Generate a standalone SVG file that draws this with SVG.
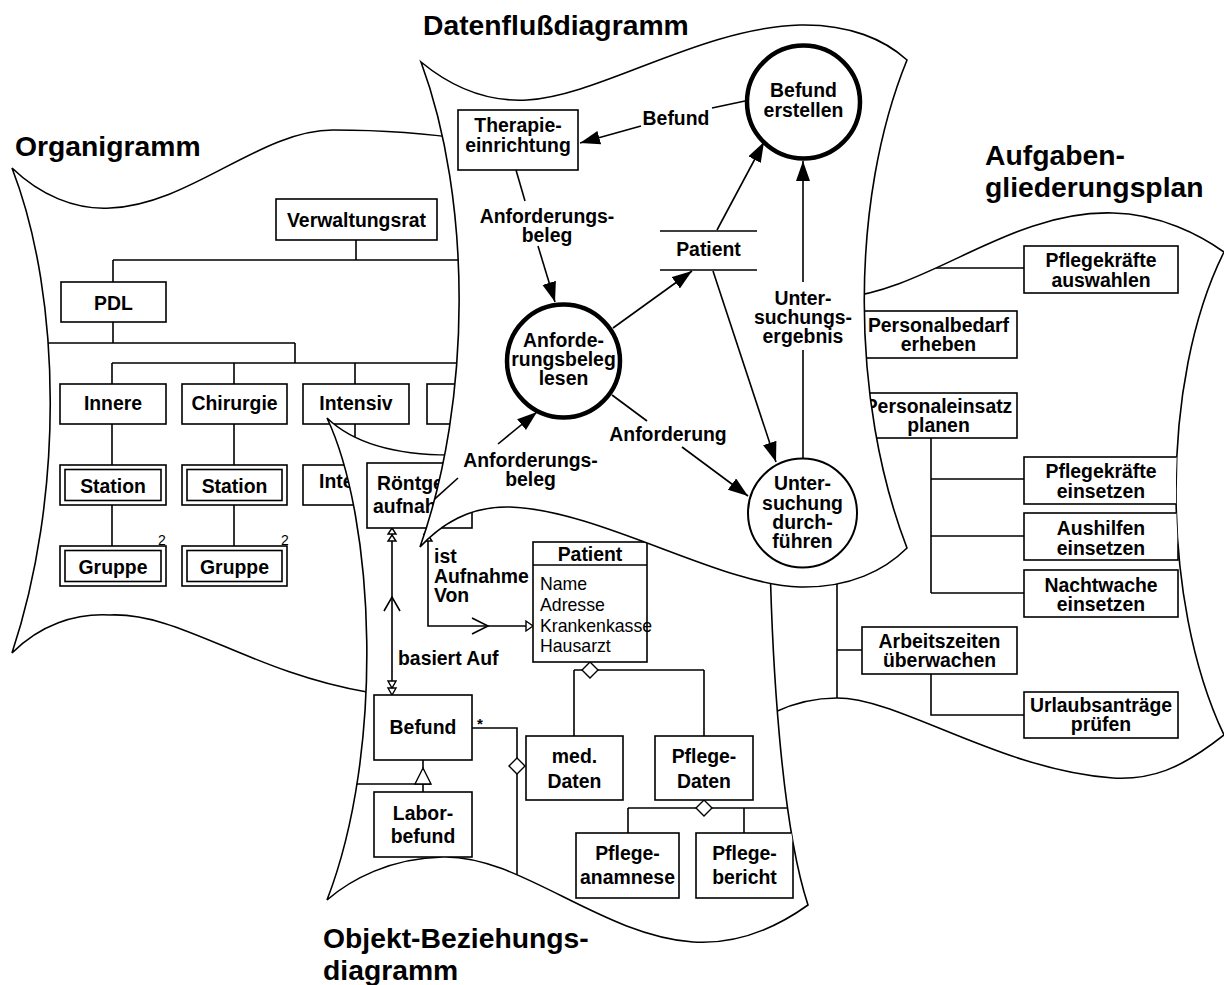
<svg xmlns="http://www.w3.org/2000/svg" xmlns:xlink="http://www.w3.org/1999/xlink" width="1224" height="985" viewBox="0 0 1224 985">
  <defs>
    <style>
      .sheet{fill:#fff;stroke:#000;stroke-width:1.6}
      .box{fill:#fff;stroke:#000;stroke-width:1.6}
      .ln{fill:none;stroke:#000;stroke-width:1.6}
      .hollow{fill:#fff;stroke:#000;stroke-width:1.4}
      .proc{fill:#fff;stroke:#000;stroke-width:4.5}
      .proc2{fill:#fff;stroke:#000;stroke-width:2}
      .flow{fill:none;stroke:#000;stroke-width:1.6;marker-end:url(#arr)}
      text{font-family:"Liberation Sans",Arial,Helvetica,sans-serif;font-weight:bold;font-size:19.4px;text-anchor:middle;fill:#000}
      .title{font-size:28.3px;text-anchor:start}
      .lft{text-anchor:start}
      .attr{font-weight:normal;font-size:17.7px;text-anchor:start}
      .sup{font-weight:normal;font-size:14px;text-anchor:start}
      .star{font-size:15px}
    </style>
    <marker id="arr" markerUnits="userSpaceOnUse" markerWidth="22" markerHeight="16" refX="20" refY="7" orient="auto">
      <path d="M0,0 L20,7 L0,14 Z" fill="#000"/>
    </marker>
    <!-- sheet outlines -->
    <path id="s-org" d="M12,168 C40,195 75,210 110,208 C190,205 260,130 333,130 C380,130 420,132 470,140 L470,694 L367,692 C250,672 180,612 110,615 C75,613 40,625 12,653 C63,500 63,300 12,168 Z"/>
    <path id="s-auf" d="M840,298 C930,290 1010,210 1113,213 C1160,214 1200,235 1224,252 C1160,380 1160,600 1224,735 C1180,770 1150,780 1113,778 C1000,770 900,698 837,698 C810,698 790,705 775,712 L765,650 L758,588 L835,520 Z"/>
    <path id="s-obj" d="M327,418 C350,440 390,455 450,455 L600,470 L770,560 C772,650 780,820 808,905 C780,925 740,945 693,942 C600,935 520,855 443,857 C390,858 350,880 327,900 C385,750 375,520 327,418 Z"/>
    <path id="s-dfd" d="M421,62 C455,90 490,102 527,100 C600,96 700,28 800,25 C850,24 885,40 907,60 C850,200 850,400 907,548 C885,570 850,588 800,587 C720,585 600,510 510,507 C475,506 445,520 420,547 C472,400 472,200 421,62 Z"/>
    <clipPath id="c-org"><use href="#s-org" xlink:href="#s-org"/></clipPath>
    <clipPath id="c-auf"><use href="#s-auf" xlink:href="#s-auf"/></clipPath>
    <clipPath id="c-obj"><use href="#s-obj" xlink:href="#s-obj"/></clipPath>
    <clipPath id="c-dfd"><use href="#s-dfd" xlink:href="#s-dfd"/></clipPath>
  </defs>

  <rect width="1224" height="985" fill="#fff"/>

  <!-- ============ Organigramm sheet ============ -->
  <g id="sheet-organigramm">
    <use href="#s-org" xlink:href="#s-org" class="sheet"/>
    <g clip-path="url(#c-org)">
      <g id="org-links" class="ln">
        <path d="M356,240V260 M113,260H470 M113,260V282 M113,322V343 M20,343H295 M295,343V363 M112,363H480 M112,363V384 M234,363V384 M355,363V384 M480,363V384 M112,424V465 M112,505V546 M234,424V465 M234,505V546 M355,424V465"/>
      </g>
      <g id="n-verwaltungsrat"><rect class="box" x="276" y="199" width="161" height="41"/><text x="356.5" y="227">Verwaltungsrat</text></g>
      <g id="n-pdl"><rect class="box" x="61" y="282" width="105" height="40"/><text x="113.5" y="310">PDL</text></g>
      <g id="n-innere"><rect class="box" x="60" y="384" width="106" height="40"/><text x="113" y="410">Innere</text></g>
      <g id="n-chirurgie"><rect class="box" x="182" y="384" width="105" height="40"/><text x="234.5" y="410">Chirurgie</text></g>
      <g id="n-intensiv"><rect class="box" x="303" y="384" width="106" height="40"/><text x="356" y="410">Intensiv</text></g>
      <g id="n-abteilung-4"><rect class="box" x="427" y="384" width="106" height="40"/></g>
      <g id="n-station-innere"><rect class="box" x="60" y="465" width="106" height="40"/><rect class="box" x="65" y="469.5" width="96" height="31"/><text x="113" y="493">Station</text></g>
      <g id="n-station-chirurgie"><rect class="box" x="182" y="465" width="105" height="40"/><rect class="box" x="187" y="469.5" width="95" height="31"/><text x="234.5" y="493">Station</text></g>
      <g id="n-intensiv-station"><rect class="box" x="303" y="465" width="106" height="40"/><text class="lft" x="319" y="488">Inte</text></g>
      <g id="n-gruppe-innere"><rect class="box" x="60" y="546" width="106" height="40"/><rect class="box" x="65" y="550.5" width="96" height="31"/><text x="113" y="574">Gruppe</text><text class="sup" x="158" y="545">2</text></g>
      <g id="n-gruppe-chirurgie"><rect class="box" x="182" y="546" width="105" height="40"/><rect class="box" x="187" y="550.5" width="95" height="31"/><text x="234.5" y="574">Gruppe</text><text class="sup" x="281" y="545">2</text></g>
    </g>
  </g>

  <!-- ============ Aufgabengliederungsplan sheet ============ -->
  <g id="sheet-aufgaben">
    <use href="#s-auf" xlink:href="#s-auf" class="sheet"/>
    <g clip-path="url(#c-auf)">
      <g id="auf-links" class="ln">
        <path d="M837,268V720 M837,268H1024 M837,335H860 M837,415H860 M837,650H862 M931,438V593 M931,479H1024 M931,536H1024 M931,593H1024 M931,674V715H1024"/>
      </g>
      <g id="n-pflegekraefte-auswahlen"><rect class="box" x="1024" y="246" width="154" height="47"/><text><tspan x="1101" y="267">Pflegekräfte</tspan><tspan x="1101" y="287">auswahlen</tspan></text></g>
      <g id="n-personalbedarf"><rect class="box" x="860" y="311" width="157" height="47"/><text><tspan x="938.5" y="332">Personalbedarf</tspan><tspan x="938.5" y="351">erheben</tspan></text></g>
      <g id="n-personaleinsatz"><rect class="box" x="860" y="393" width="157" height="45"/><text><tspan x="938.5" y="413">Personaleinsatz</tspan><tspan x="938.5" y="432">planen</tspan></text></g>
      <g id="n-pflegekraefte-einsetzen"><rect class="box" x="1024" y="457" width="154" height="47"/><text><tspan x="1101" y="478">Pflegekräfte</tspan><tspan x="1101" y="498">einsetzen</tspan></text></g>
      <g id="n-aushilfen"><rect class="box" x="1024" y="513" width="154" height="47"/><text><tspan x="1101" y="535">Aushilfen</tspan><tspan x="1101" y="555">einsetzen</tspan></text></g>
      <g id="n-nachtwache"><rect class="box" x="1024" y="570" width="154" height="47"/><text><tspan x="1101" y="592">Nachtwache</tspan><tspan x="1101" y="611">einsetzen</tspan></text></g>
      <g id="n-arbeitszeiten"><rect class="box" x="862" y="627" width="155" height="47"/><text><tspan x="939.5" y="648">Arbeitszeiten</tspan><tspan x="939.5" y="667">überwachen</tspan></text></g>
      <g id="n-urlaubsantraege"><rect class="box" x="1024" y="692" width="154" height="46"/><text><tspan x="1101" y="712">Urlaubsanträge</tspan><tspan x="1101" y="731">prüfen</tspan></text></g>
    </g>
  </g>

  <!-- ============ Objekt-Beziehungsdiagramm sheet ============ -->
  <g id="sheet-objekt">
    <use href="#s-obj" xlink:href="#s-obj" class="sheet"/>
    <g clip-path="url(#c-obj)">
      <g id="obj-links">
        <path class="ln" d="M392,541V681 M428,541V626H526 M472,728H517V758 M517,774V910 M423,760V768 M340,784H431 M423,784V792 M574,670H582 M598,670H704 M574,670V736 M704,670V736 M628,808H696 M712,808H800 M628,808V833 M744,808V833"/>
        <path class="ln" d="M384,611L392,597L400,611 M472,618L488,626L472,634"/>
        <path class="hollow" d="M392,528L396,534H388Z M392,535L396,541H388Z M428,528L432,534H424Z M428,535L432,541H424Z M388,681H396L392,688Z M388,688H396L392,695Z M533,626L526,631V621Z M423,768L431,784H415Z"/>
        <path class="hollow" d="M590,662L598,670L590,678L582,670Z M704,800L712,808L704,816L696,808Z M517,758L525,766L517,774L509,766Z"/>
        <text class="lft" x="398" y="665">basiert Auf</text>
        <text class="lft"><tspan x="434" y="563">ist</tspan><tspan x="434" y="583">Aufnahme</tspan><tspan x="434" y="602">Von</tspan></text>
        <text class="star" x="480" y="729">*</text>
      </g>
      <g id="n-roentgenaufnahme"><rect class="box" x="367" y="463" width="105" height="65"/><text class="lft"><tspan x="377" y="490">Röntge</tspan><tspan x="373" y="513">aufnah</tspan></text></g>
      <g id="n-patient-klasse">
        <rect class="box" x="533" y="542" width="114" height="120"/>
        <path class="ln" d="M533,565H647"/>
        <text x="590" y="561">Patient</text>
        <text class="attr"><tspan x="540" y="590">Name</tspan><tspan x="540" y="611">Adresse</tspan><tspan x="540" y="632">Krankenkasse</tspan><tspan x="540" y="652">Hausarzt</tspan></text>
      </g>
      <g id="n-befund"><rect class="box" x="374" y="695" width="98" height="65"/><text x="423" y="734">Befund</text></g>
      <g id="n-laborbefund"><rect class="box" x="374" y="792" width="98" height="65"/><text><tspan x="423" y="820">Labor-</tspan><tspan x="423" y="843">befund</tspan></text></g>
      <g id="n-med-daten"><rect class="box" x="526" y="736" width="97" height="64"/><text><tspan x="574.5" y="763">med.</tspan><tspan x="574.5" y="788">Daten</tspan></text></g>
      <g id="n-pflege-daten"><rect class="box" x="655" y="736" width="98" height="64"/><text><tspan x="704" y="763">Pflege-</tspan><tspan x="704" y="788">Daten</tspan></text></g>
      <g id="n-pflegeanamnese"><rect class="box" x="576" y="833" width="103" height="65"/><text><tspan x="627.5" y="860">Pflege-</tspan><tspan x="627.5" y="884">anamnese</tspan></text></g>
      <g id="n-pflegebericht"><rect class="box" x="696" y="833" width="97" height="65"/><text><tspan x="744.5" y="860">Pflege-</tspan><tspan x="744.5" y="884">bericht</tspan></text></g>
    </g>
  </g>

  <!-- ============ Datenflussdiagramm sheet ============ -->
  <g id="sheet-datenfluss">
    <use href="#s-dfd" xlink:href="#s-dfd" class="sheet"/>
    <g clip-path="url(#c-dfd)">
      <g id="n-therapieeinrichtung"><rect class="box" x="458" y="110" width="120" height="60"/><text><tspan x="518" y="132">Therapie-</tspan><tspan x="518" y="152">einrichtung</tspan></text></g>
      <g id="n-befund-erstellen"><circle class="proc" cx="803.5" cy="102" r="56.5"/><text><tspan x="803.5" y="97">Befund</tspan><tspan x="803.5" y="117">erstellen</tspan></text></g>
      <g id="n-anforderungsbeleg-lesen"><circle class="proc" cx="563.5" cy="361" r="56.5"/><text><tspan x="563.5" y="347">Anforde-</tspan><tspan x="563.5" y="366">rungsbeleg</tspan><tspan x="563.5" y="385">lesen</tspan></text></g>
      <g id="n-untersuchung"><circle class="proc2" cx="802.5" cy="513" r="54.5"/><text><tspan x="802.5" y="490">Unter-</tspan><tspan x="802.5" y="510">suchung</tspan><tspan x="802.5" y="529">durch-</tspan><tspan x="802.5" y="548">führen</tspan></text></g>
      <g id="n-patient-speicher"><path class="ln" d="M660,231H757 M660,270H757"/><text x="708.5" y="256">Patient</text></g>
      <g id="dfd-flows">
        <path class="ln" d="M745,101L712,108"/>
        <path class="flow" d="M641,126L580,143"/>
        <path class="ln" d="M516,170L525,201"/>
        <path class="flow" d="M538,246L555,302"/>
        <path class="flow" d="M613,328L692,271"/>
        <path class="flow" d="M717,230L764,142"/>
        <path class="flow" d="M713,271L776,462"/>
        <path class="ln" d="M612,395L647,421"/>
        <path class="flow" d="M682,447L748,496"/>
        <path class="ln" d="M803,458V350"/>
        <path class="flow" d="M803,282V161"/>
        <path class="ln" d="M428,505L458,478"/>
        <path class="flow" d="M498,444L537,412"/>
        <text x="676" y="125">Befund</text>
        <text><tspan x="547" y="223">Anforderungs-</tspan><tspan x="547" y="242">beleg</tspan></text>
        <text x="668" y="441">Anforderung</text>
        <text><tspan x="803" y="305">Unter-</tspan><tspan x="803" y="324">suchungs-</tspan><tspan x="803" y="343">ergebnis</tspan></text>
        <text><tspan x="530.5" y="467">Anforderungs-</tspan><tspan x="530.5" y="486">beleg</tspan></text>
      </g>
    </g>
  </g>

  <!-- ============ sheet titles ============ -->
  <g id="titles">
    <text class="title" x="15" y="156">Organigramm</text>
    <text class="title" x="423" y="35">Datenflußdiagramm</text>
    <text class="title"><tspan x="985" y="165">Aufgaben-</tspan><tspan x="985" y="197">gliederungsplan</tspan></text>
    <text class="title"><tspan x="323" y="948">Objekt-Beziehungs-</tspan><tspan x="323" y="980">diagramm</tspan></text>
  </g>
</svg>
